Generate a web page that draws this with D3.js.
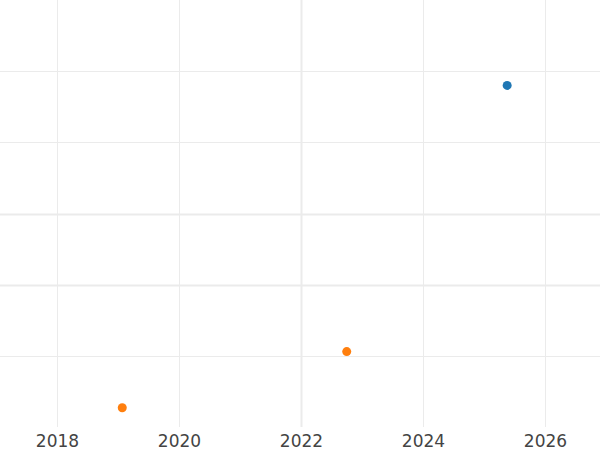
<!DOCTYPE html>
<html><head><meta charset="utf-8">
<script src="https://cdn.jsdelivr.net/npm/d3@7/dist/d3.min.js"></script>
<style>html,body{margin:0;padding:0;background:#fff;}</style>
</head><body>
<svg id="chart" width="600" height="450"></svg>
<script>
const seriesA_years = [2025.38];
const seriesA_values = [48.0];
const seriesB_years = [2022.75, 2019.07];
const seriesB_values = [10.6, 2.7];
const xTicks = [2018, 2020, 2022, 2024, 2026];
const yTicks = [10, 20, 30, 40, 50];
const strongX = [2022];
const strongY = [30, 20];

const svg = d3.select("#chart");
const W = 600, plotBottom = 427;
const x = d3.scaleLinear().domain([2017.066, 2026.902]).range([0, W]);
const y = d3.scaleLinear().domain([0, 60]).range([plotBottom, 0]);

const grid = svg.append("g");
grid.selectAll("line.h").data(yTicks).join("line")
  .attr("x1", 0).attr("x2", W)
  .attr("y1", d => Math.round(y(d)) + 0.5).attr("y2", d => Math.round(y(d)) + 0.5)
  .attr("stroke", "#ebebeb").attr("stroke-width", d => strongY.includes(d) ? 2 : 1);
grid.selectAll("line.v").data(xTicks).join("line")
  .attr("y1", 0).attr("y2", plotBottom)
  .attr("x1", d => Math.round(x(d)) + 0.5).attr("x2", d => Math.round(x(d)) + 0.5)
  .attr("stroke", "#ebebeb").attr("stroke-width", d => strongX.includes(d) ? 2 : 1);

const xAxis = d3.axisBottom(x).tickValues(xTicks).tickFormat(d3.format("d")).tickSize(0).tickPadding(0);
const ax = svg.append("g").attr("transform", `translate(0,${plotBottom})`).call(xAxis);
ax.select(".domain").remove();
ax.selectAll("text").attr("font-family", "'DejaVu Sans', sans-serif").attr("font-size", 17)
  .attr("fill", "#444").attr("dy", null).attr("y", 19.5);

svg.append("g").selectAll("circle").data(seriesA_years.map((d,i)=>[d, seriesA_values[i]])).join("circle")
  .attr("cx", d => x(d[0])).attr("cy", d => y(d[1])).attr("r", 4.5).attr("fill", "#1f77b4");
svg.append("g").selectAll("circle").data(seriesB_years.map((d,i)=>[d, seriesB_values[i]])).join("circle")
  .attr("cx", d => x(d[0])).attr("cy", d => y(d[1])).attr("r", 4.5).attr("fill", "#ff7f0e");
</script>
</body></html>
